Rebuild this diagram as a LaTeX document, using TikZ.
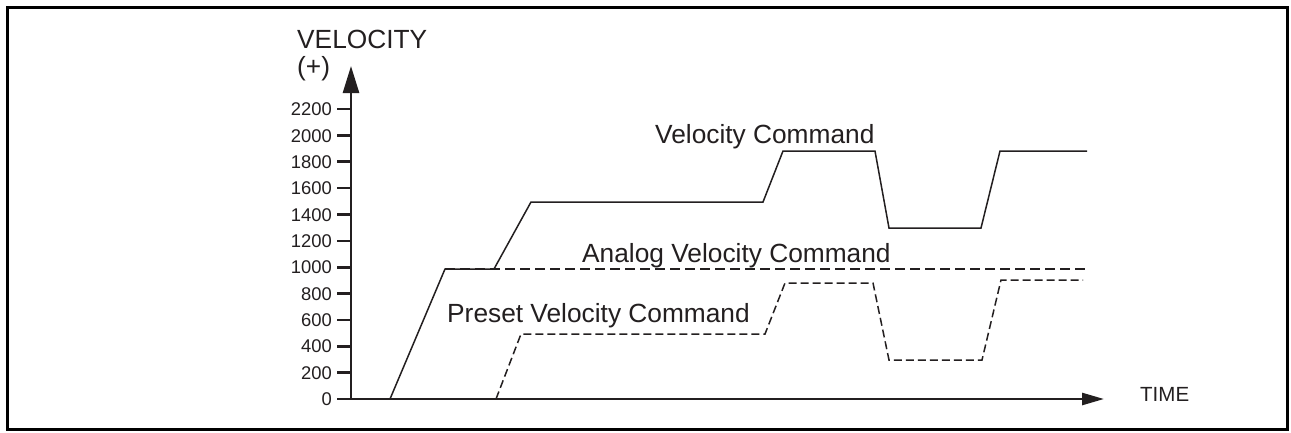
\documentclass[tikz,border=0pt]{standalone}
\usepackage{fontspec}
\setmainfont{Liberation Sans}
\usetikzlibrary{arrows.meta}
\definecolor{ink}{RGB}{35,31,32}
\begin{document}
\begin{tikzpicture}[x=1pt,y=-1pt,
  frame/.style={draw=black,line width=3pt},
  axisline/.style={draw=ink,line width=2.6pt},
  tickline/.style={draw=ink,line width=2.6pt},
  curve/.style={draw=ink,line width=1.5pt,line join=miter},
  analogcurve/.style={curve,dash pattern=on 10pt off 5pt},
  presetcurve/.style={curve,dash pattern=on 8pt off 4pt},
  bigtext/.style={inner sep=0pt,text=ink,font=\fontsize{26.3}{30}\selectfont},
  ticktext/.style={inner sep=0pt,text=ink,anchor=base east,font=\fontsize{18.4}{22}\selectfont},
  timetext/.style={inner sep=0pt,text=ink,anchor=base west,font=\fontsize{20.5}{24}\selectfont}]
\useasboundingbox (0,0) rectangle (1291,432);
\fill[white] (0,0) rectangle (1291,432);
\draw[frame] (7.5,7.5) rectangle (1287,429.5);

% axes
\coordinate (o) at (351,399);
\coordinate (ytop) at (351,66);
\coordinate (xend) at (1104,399);
\draw[axisline,-{Triangle[length=27pt,width=16pt]}] (o) -- (ytop);
\draw[axisline,-{Triangle[length=22pt,width=12pt]}] (o) -- (xend);

% ticks and labels
\foreach \k/\lab in {0/0,1/200,2/400,3/600,4/800,5/1000,6/1200,7/1400,8/1600,9/1800,10/2000,11/2200}{
  \pgfmathsetmacro{\yy}{399-26.36*\k}
  \coordinate (t\k) at (351,\yy);
  \draw[tickline] (t\k) -- ++(-14,0);
  \node[ticktext] (lab\k) at (332,\yy+6.6) {\lab};
}

% labels
\node[bigtext,anchor=base west] (vel) at (297,48) {VELOCITY};
\node[bigtext,anchor=base west] (plus) at (297,75) {(+)};
\node[timetext] (time) at (1140,401) {TIME};
\node[bigtext,anchor=base west] (vc) at (655,143) {Velocity Command};
\node[bigtext,anchor=base west] (avc) at (582,262) {Analog Velocity Command};
\node[bigtext,anchor=base west] (pvc) at (447,322) {Preset Velocity Command};

% curves
\draw[curve] (390,399) -- (445,269) -- (494,269) -- (531,202) -- (763,202) -- (783,151) -- (875,151) -- (889,228) -- (981,228) -- (1000,151) -- (1087,151);
\draw[analogcurve] (445,269) -- (1087,269);
\draw[presetcurve] (496,399) -- (521,334) -- (765,334) -- (785,283) -- (873,283) -- (889,360) -- (982,360) -- (1001,280) -- (1083,280);
\end{tikzpicture}
\end{document}
